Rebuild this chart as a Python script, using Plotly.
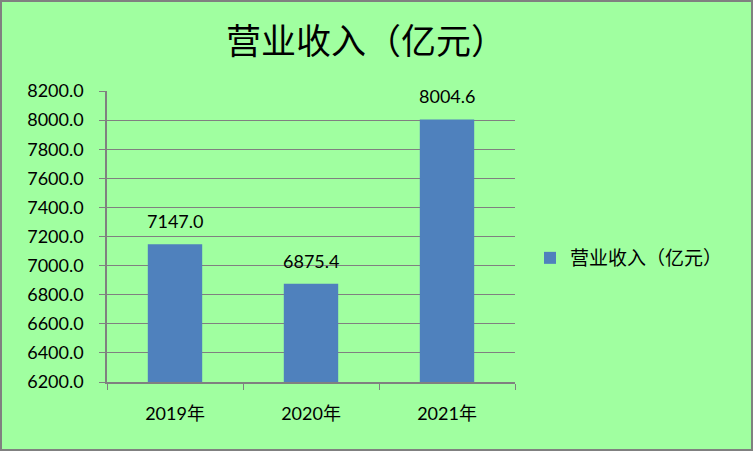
import plotly.graph_objects as go

categories = ["2019年", "2020年", "2021年"]
values = [7147.0, 6875.4, 8004.6]
series_name = "营业收入（亿元）"
title_text = "营业收入（亿元）"
y_ticks = [6200, 6400, 6600, 6800, 7000, 7200, 7400, 7600, 7800, 8000, 8200]

W, H = 753, 451
L, R, T, B = 107, 238, 91, 69
pw, ph = W - L - R, H - T - B

bg = "rgb(160,255,160)"
grid = "rgb(128,128,128)"
font_num = "Lato, 'Noto Sans CJK SC', sans-serif"
font_cjk = "'Noto Sans CJK SC', sans-serif"

fig = go.Figure()
fig.add_trace(go.Bar(
    x=categories, y=values, name=series_name,
    marker=dict(color="rgb(79,129,189)", line=dict(width=0)),
    width=0.4,
    showlegend=True,
))

annotations = [dict(x=c, y=v, text=f"{v:.1f}", showarrow=False, yshift=23,
                    yanchor="middle", xanchor="center",
                    font=dict(family=font_num, size=18, color="black"))
               for c, v in zip(categories, values)]

fig.update_layout(
    width=W, height=H,
    margin=dict(l=L, r=R, t=T, b=B),
    paper_bgcolor=bg, plot_bgcolor=bg,
    title=dict(text=title_text, x=366 / W, xanchor="center", xref="container",
               y=1 - 42 / H, yanchor="middle", yref="container",
               font=dict(family=font_cjk, size=35, color="black")),
    showlegend=True,
    legend=dict(x=(530 - L) / pw, xanchor="left", y=(H - B - 258) / ph, yanchor="middle",
                bgcolor="rgba(0,0,0,0)",
                font=dict(family=font_cjk, size=19, color="black"),
                itemwidth=30),
    annotations=annotations,
    xaxis=dict(type="category", tickson="boundaries", ticks="outside", ticklen=6,
               tickcolor=grid, showline=True, linecolor=grid, linewidth=1.5,
               showgrid=False, ticklabelstandoff=15,
               tickfont=dict(family=font_num, size=18, color="black")),
    yaxis=dict(range=[6200, 8200], tickvals=y_ticks,
               ticktext=[f"{v:.1f}" for v in y_ticks],
               ticks="outside", ticklen=6, tickcolor=grid,
               showline=True, linecolor=grid, linewidth=1.5,
               showgrid=True, gridcolor=grid, gridwidth=1, zeroline=False,
               ticklabelstandoff=12,
               tickfont=dict(family=font_num, size=18, color="black")),
    shapes=[dict(type="rect", xref="paper", yref="paper",
                 x0=(1 - L) / pw, x1=(W - 1 - L) / pw,
                 y0=(-(B - 1)) / ph, y1=(H - 1 - B) / ph,
                 line=dict(color="rgb(128,128,128)", width=2), fillcolor="rgba(0,0,0,0)")],
)

fig.write_html("out.html", config={"displayModeBar": False},
               post_script="document.body.style.margin='0';")
